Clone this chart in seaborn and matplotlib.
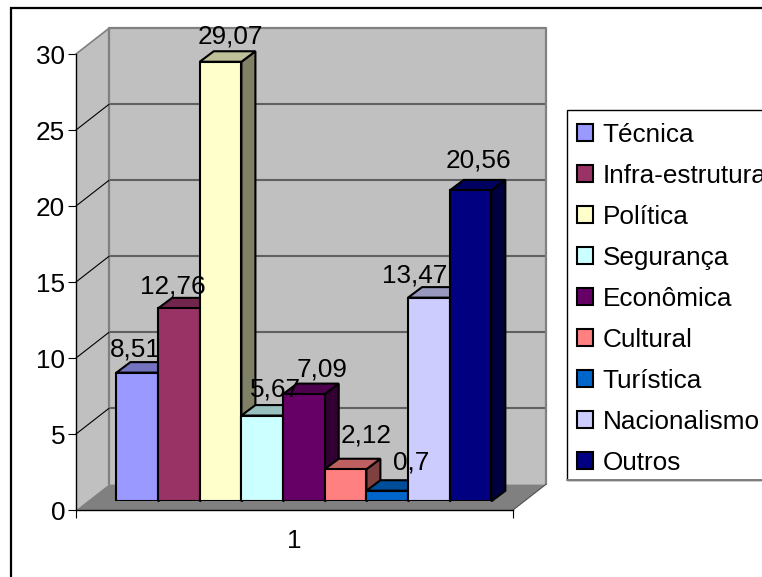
import matplotlib
matplotlib.use("Agg")
import matplotlib.pyplot as plt
from matplotlib.lines import Line2D
from matplotlib.patches import Polygon, Rectangle
from matplotlib.transforms import Affine2D
import pandas as pd
import seaborn as sns

categories = ["Técnica", "Infra-estrutura", "Política", "Segurança", "Econômica",
              "Cultural", "Turística", "Nacionalismo", "Outros"]
values = [8.51, 12.76, 29.07, 5.67, 7.09, 2.12, 0.7, 13.47, 20.56]
value_labels = ["8,51", "12,76", "29,07", "5,67", "7,09", "2,12", "0,7", "13,47", "20,56"]
group_label = "1"
y_ticks = [0, 5, 10, 15, 20, 25, 30]

colors = ["#9999FF", "#993366", "#FFFFCC", "#CCFFFF", "#660066",
          "#FF8080", "#0066CC", "#CCCCFF", "#000080"]
label_nudges = [(-2, 25.6), (-6.5, 24), (10, 28), (13, 28.6), (18.5, 27),
                (21, 36), (24, 30.7), (-14, 24.6), (8, 32)]

W, H = 762, 577
sns.set_theme(style="white")
plt.rcParams["font.family"] = ["Liberation Sans", "DejaVu Sans"]
plt.rcParams["text.color"] = "black"
plt.rcParams["xtick.labelcolor"] = "black"
plt.rcParams["ytick.labelcolor"] = "black"
FS = 18.8


def box(left, top, right, bottom):
    return [left / W, 1 - bottom / H, (right - left) / W, (bottom - top) / H]


def shade(hex_color, k):
    r, g, b = matplotlib.colors.to_rgb(hex_color)
    return (r * k, g * k, b * k)


fig = plt.figure(figsize=(W / 100, H / 100), dpi=100, facecolor="white")

# outer chart frame (open on the right and at the bottom, as cut by the image)
fig.add_artist(Rectangle((11 / W, -0.1), 1.2, 1 - 8 / H + 0.1, transform=fig.transFigure,
                         fill=False, edgecolor="black", linewidth=1.6))

# front frame: value axis and category axis
ax = fig.add_axes(box(76, 54, 513, 510))
ax.patch.set_alpha(0)
ax.set_xlim(0, 1)
ax.set_ylim(0, 30)
ax.set_zorder(1)
depth = Affine2D().translate(33, 25.7)
back = ax.transData + depth


def to_back(x, y):
    return ax.transData.inverted().transform(back.transform((x, y)))


bl, tl, br = to_back(0, 0), to_back(0, 30), to_back(1, 0)
tr = to_back(1, 30)
ax.add_patch(Polygon([bl, tl, tr, br], closed=True, facecolor="#C0C0C0", edgecolor="none",
                     clip_on=False, zorder=1))
ax.add_patch(Polygon([(0, 0), (0, 30), tl, bl], closed=True, facecolor="#C0C0C0",
                     edgecolor="none", clip_on=False, zorder=1))
ax.add_patch(Polygon([(0, 0), bl, br, (1, 0)], closed=True, facecolor="#808080",
                     edgecolor="none", clip_on=False, zorder=1.1))
for t in y_ticks[1:-1]:
    ax.plot([0, 1], [t, t], transform=back, color="#606060", lw=1.5, clip_on=False, zorder=1.2)
    p = to_back(0, t)
    ax.plot([0, p[0]], [t, p[1]], color="black", lw=0.8, clip_on=False, zorder=1.3)
ax.plot([0, tl[0]], [30, tl[1]], color="#808080", lw=1.2, clip_on=False, zorder=1.3)
ax.plot([bl[0], tl[0], tr[0], br[0]], [bl[1], tl[1], tr[1], br[1]], color="#808080", lw=1.6,
        clip_on=False, zorder=1.2)
ax.plot([1, br[0]], [0, br[1]], color="#505050", lw=0.8, clip_on=False, zorder=1.3)

for side in ("top", "right"):
    ax.spines[side].set_visible(False)
for side in ("left", "bottom"):
    ax.spines[side].set_color("black")
    ax.spines[side].set_linewidth(1.0)
    ax.spines[side].set_zorder(3)
ax.set_yticks(y_ticks)
ax.set_xticks([0.5])
ax.set_xticklabels([group_label])
ax.set_xticks([0, 1], minor=True)
ax.tick_params(axis="y", left=True, length=5.8, width=0.8, color="black", labelsize=FS, pad=2)
ax.tick_params(axis="x", which="major", bottom=False, labelsize=FS, pad=8)
ax.tick_params(axis="x", which="minor", bottom=True, length=5.8, width=0.8, color="black")

# bars on the middle plane of the 3D box
ax_b = fig.add_axes(box(85.4, 501.3 - 30 * 15.12, 522.4, 501.3))
ax_b.patch.set_alpha(0)
ax_b.set_zorder(2)
df = pd.DataFrame({"grupo": [group_label] * len(values), "categoria": categories, "valor": values})
sns.barplot(data=df, x="grupo", y="valor", hue="categoria", hue_order=categories,
            palette=colors, width=0.858, saturation=1, edgecolor="black", linewidth=1.5,
            ax=ax_b, legend=True, err_kws={"linewidth": 0})
handles, labels = ax_b.get_legend_handles_labels()
ax_b.get_legend().remove()
ax_b.set_xlim(-0.5, 0.5)
ax_b.set_ylim(0, 30)
ax_b.axis("off")

dx_data = 14 / 437
dy_data = 10.5 / 15.12
for i, container in enumerate(ax_b.containers):
    bar = container[0]
    x0, w, h = bar.get_x(), bar.get_width(), bar.get_height()
    x1 = x0 + w
    bar.set_zorder(10 + i * 3 + 2)
    ax_b.add_patch(Polygon([(x1, 0), (x1, h), (x1 + dx_data, h + dy_data), (x1 + dx_data, dy_data)],
                           closed=True, facecolor=shade(colors[i], 0.5), edgecolor="black",
                           linewidth=1.5, clip_on=False, zorder=10 + i * 3))
    ax_b.add_patch(Polygon([(x0, h), (x1, h), (x1 + dx_data, h + dy_data), (x0 + dx_data, h + dy_data)],
                           closed=True, facecolor=shade(colors[i], 0.75), edgecolor="black",
                           linewidth=1.5, clip_on=False, zorder=10 + i * 3 + 1))
    ax_b.annotate(value_labels[i], xy=(x0 + w / 2, h), xytext=label_nudges[i],
                  textcoords="offset pixels", ha="center", va="center_baseline", fontsize=FS,
                  color="black", zorder=100, annotation_clip=False)

# legend box (runs past the right edge of the image)
fig.add_artist(Rectangle((567 / W, 1 - 480 / H), 0.5, 370 / H, transform=fig.transFigure,
                         facecolor="white", edgecolor="black", linewidth=1.0, zorder=4))
fig.add_artist(Line2D([567 / W, 1], [1 - 480 / H] * 2, transform=fig.transFigure,
                      color="#808080", lw=1.4, zorder=4.5))
leg = fig.legend(handles, labels, loc="upper left", bbox_to_anchor=(567 / W, 1 - 113 / H),
                 bbox_transform=fig.transFigure, borderaxespad=0, fontsize=FS, frameon=False,
                 handlelength=0.62, handleheight=0.62, handletextpad=0.36, borderpad=0.38,
                 labelspacing=0.652)
leg.set_zorder(5)

fig.savefig("out.png", dpi=100)
